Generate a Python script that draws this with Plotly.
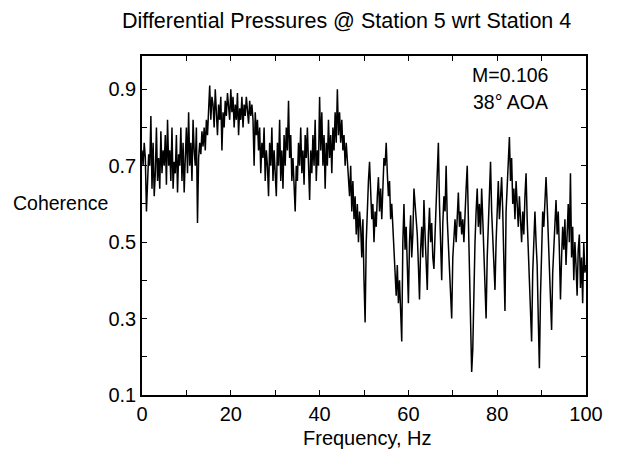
import numpy as np
import plotly.graph_objects as go

# Frequency grid (Hz), 0.25 Hz resolution
freq = [i * 0.25 for i in range(401)]

# Coherence values, one row per 5 Hz
coh_0_5 = [0.74, 0.70, 0.76, 0.72, 0.58, 0.66, 0.73, 0.70, 0.83, 0.64, 0.76, 0.62, 0.68, 0.80, 0.66, 0.72, 0.64, 0.79, 0.68, 0.74]
coh_5_10 = [0.70, 0.78, 0.65, 0.82, 0.70, 0.74, 0.66, 0.80, 0.64, 0.71, 0.68, 0.78, 0.63, 0.73, 0.70, 0.80, 0.66, 0.76, 0.63, 0.72]
coh_10_15 = [0.80, 0.68, 0.84, 0.70, 0.76, 0.66, 0.82, 0.74, 0.70, 0.80, 0.55, 0.72, 0.76, 0.73, 0.79, 0.75, 0.80, 0.74, 0.82, 0.78]
coh_15_20 = [0.84, 0.91, 0.82, 0.88, 0.86, 0.80, 0.90, 0.84, 0.78, 0.86, 0.82, 0.88, 0.74, 0.84, 0.80, 0.87, 0.83, 0.89, 0.85, 0.82]
coh_20_25 = [0.90, 0.84, 0.88, 0.80, 0.86, 0.82, 0.89, 0.78, 0.85, 0.82, 0.88, 0.80, 0.86, 0.83, 0.88, 0.84, 0.81, 0.87, 0.83, 0.86]
coh_25_30 = [0.82, 0.70, 0.84, 0.78, 0.82, 0.74, 0.80, 0.68, 0.76, 0.72, 0.80, 0.66, 0.74, 0.70, 0.62, 0.76, 0.70, 0.80, 0.66, 0.74]
coh_30_35 = [0.68, 0.62, 0.76, 0.70, 0.82, 0.66, 0.74, 0.64, 0.78, 0.70, 0.80, 0.74, 0.87, 0.72, 0.78, 0.66, 0.72, 0.64, 0.58, 0.70]
coh_35_40 = [0.66, 0.76, 0.70, 0.80, 0.68, 0.74, 0.65, 0.78, 0.72, 0.80, 0.70, 0.61, 0.74, 0.68, 0.78, 0.70, 0.82, 0.66, 0.74, 0.70]
coh_40_45 = [0.88, 0.74, 0.84, 0.70, 0.78, 0.64, 0.76, 0.70, 0.82, 0.72, 0.78, 0.68, 0.80, 0.74, 0.84, 0.76, 0.90, 0.78, 0.84, 0.76]
coh_45_50 = [0.82, 0.74, 0.78, 0.70, 0.76, 0.72, 0.66, 0.62, 0.70, 0.58, 0.66, 0.56, 0.62, 0.52, 0.60, 0.50, 0.58, 0.54, 0.46, 0.56]
coh_50_55 = [0.40, 0.29, 0.50, 0.60, 0.66, 0.71, 0.62, 0.56, 0.60, 0.50, 0.58, 0.54, 0.62, 0.67, 0.58, 0.64, 0.56, 0.66, 0.72, 0.70]
coh_55_60 = [0.76, 0.68, 0.62, 0.66, 0.56, 0.60, 0.52, 0.48, 0.42, 0.36, 0.44, 0.34, 0.40, 0.32, 0.24, 0.50, 0.60, 0.48, 0.54, 0.44]
coh_60_65 = [0.34, 0.50, 0.57, 0.46, 0.52, 0.64, 0.60, 0.58, 0.52, 0.44, 0.35, 0.48, 0.54, 0.46, 0.61, 0.52, 0.44, 0.375, 0.52, 0.59]
coh_65_70 = [0.50, 0.55, 0.46, 0.43, 0.52, 0.60, 0.68, 0.76, 0.60, 0.50, 0.40, 0.55, 0.62, 0.58, 0.70, 0.56, 0.50, 0.44, 0.38, 0.30]
coh_70_75 = [0.46, 0.52, 0.56, 0.50, 0.58, 0.63, 0.54, 0.58, 0.52, 0.56, 0.50, 0.60, 0.64, 0.70, 0.56, 0.42, 0.28, 0.16, 0.22, 0.38]
coh_75_80 = [0.50, 0.58, 0.64, 0.54, 0.60, 0.52, 0.64, 0.56, 0.48, 0.40, 0.30, 0.46, 0.56, 0.62, 0.71, 0.58, 0.52, 0.46, 0.375, 0.50]
coh_80_85 = [0.60, 0.66, 0.56, 0.62, 0.67, 0.58, 0.44, 0.32, 0.58, 0.64, 0.70, 0.775, 0.66, 0.72, 0.60, 0.64, 0.56, 0.66, 0.60, 0.54]
coh_85_90 = [0.62, 0.56, 0.50, 0.58, 0.52, 0.62, 0.68, 0.56, 0.48, 0.40, 0.30, 0.24, 0.42, 0.52, 0.58, 0.50, 0.44, 0.30, 0.17, 0.36]
coh_90_95 = [0.50, 0.58, 0.54, 0.62, 0.67, 0.60, 0.52, 0.44, 0.38, 0.27, 0.42, 0.50, 0.56, 0.61, 0.52, 0.58, 0.48, 0.35, 0.46, 0.54]
coh_95_100 = [0.48, 0.56, 0.44, 0.52, 0.60, 0.50, 0.68, 0.46, 0.54, 0.40, 0.50, 0.44, 0.36, 0.48, 0.52, 0.38, 0.46, 0.34, 0.50, 0.42, 0.44]

coherence = (coh_0_5 + coh_5_10 + coh_10_15 + coh_15_20 + coh_20_25 + coh_25_30 + coh_30_35
             + coh_35_40 + coh_40_45 + coh_45_50 + coh_50_55 + coh_55_60 + coh_60_65 + coh_65_70
             + coh_70_75 + coh_75_80 + coh_80_85 + coh_85_90 + coh_90_95 + coh_95_100)

title_text = "Differential Pressures @ Station 5 wrt Station 4"
xlabel = "Frequency, Hz"
ylabel = "Coherence"
note_mach = "M=0.106"
note_aoa = "38° AOA"

FONT = "Liberation Sans, Arial, Helvetica, sans-serif"

fig = go.Figure()
fig.add_trace(go.Scatter(x=freq, y=coherence, mode="lines",
                         line=dict(color="black", width=1.5), showlegend=False,
                         hoverinfo="skip"))

W, H = 626, 458
L, R, T, B = 142, 40, 56, 63
pw, ph = W - L - R, H - T - B

def px_to_paper_x(px):
    return (px - L) / pw

def px_to_paper_y(py):
    return (H - B - py) / ph

axis_common = dict(showgrid=False, zeroline=False, showline=True, linecolor="black",
                   linewidth=1.5, mirror="allticks", ticks="inside", ticklen=5,
                   tickcolor="black", tickwidth=1.2,
                   tickfont=dict(family=FONT, size=20, color="black"))

fig.update_xaxes(range=[0, 100], tick0=0, dtick=20,
                 minor=dict(dtick=10, ticks="inside", ticklen=5, tickcolor="black", tickwidth=1.2),
                 **axis_common)
fig.update_yaxes(range=[0.1, 0.987], tick0=0.1, dtick=0.2, tickformat=".1f",
                 minor=dict(dtick=0.1, tick0=0.1, ticks="inside", ticklen=5, tickcolor="black", tickwidth=1.2),
                 **axis_common)

annots = [
    dict(text=title_text, x=px_to_paper_x(346), y=px_to_paper_y(21), size=21.5, xa="center"),
    dict(text=xlabel, x=px_to_paper_x(367), y=px_to_paper_y(438), size=20, xa="center"),
    dict(text=ylabel, x=px_to_paper_x(60), y=px_to_paper_y(203), size=19.5, xa="center"),
    dict(text=note_mach, x=px_to_paper_x(550), y=px_to_paper_y(75), size=19.5, xa="right"),
    dict(text=note_aoa, x=px_to_paper_x(550), y=px_to_paper_y(102), size=19.5, xa="right"),
]
for a in annots:
    fig.add_annotation(text=a["text"], x=a["x"], y=a["y"], xref="paper", yref="paper",
                       xanchor=a["xa"], yanchor="middle", showarrow=False,
                       font=dict(family=FONT, size=a["size"], color="black"))

fig.update_layout(width=W, height=H, margin=dict(l=L, r=R, t=T, b=B, pad=0),
                  paper_bgcolor="white", plot_bgcolor="white",
                  font=dict(family=FONT, color="black"))

fig.write_html("out.html")
